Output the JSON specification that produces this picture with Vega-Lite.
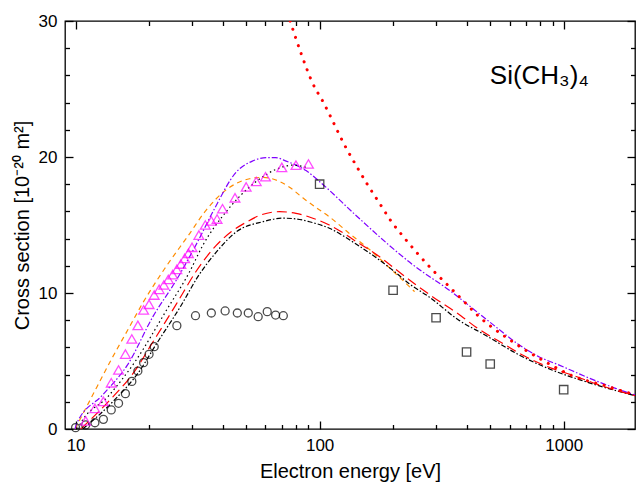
{
  "$schema": "https://vega.github.io/schema/vega-lite/v6.json",
  "width": 570,
  "height": 408,
  "autosize": {"type": "none"},
  "padding": {"left": 65, "top": 21, "right": 2, "bottom": 60},
  "background": "white",
  "config": {
    "view": {"stroke": "black", "strokeWidth": 1.3},
    "font": "Liberation Sans",
    "axis": {
      "domain": false,
      "grid": false,
      "tickColor": "black",
      "tickWidth": 1.3,
      "labelFont": "Liberation Sans",
      "labelFontSize": 17,
      "labelColor": "black",
      "titleFont": "Liberation Sans",
      "titleFontSize": 20,
      "titleFontWeight": "normal",
      "titleColor": "black"
    }
  },
  "datasets": {
    "curves": [
      {"s": "orange", "E": 9.95, "v": 0},
      {"s": "orange", "E": 11.6, "v": 2.3},
      {"s": "orange", "E": 14.0, "v": 5.1},
      {"s": "orange", "E": 16.5, "v": 7.4},
      {"s": "orange", "E": 18.9, "v": 9.3},
      {"s": "orange", "E": 23.2, "v": 11.8},
      {"s": "orange", "E": 28.9, "v": 14.2},
      {"s": "orange", "E": 34.3, "v": 16.1},
      {"s": "orange", "E": 41.5, "v": 17.6},
      {"s": "orange", "E": 51.6, "v": 18.4},
      {"s": "orange", "E": 58.5, "v": 18.5},
      {"s": "orange", "E": 68.5, "v": 18.2},
      {"s": "orange", "E": 75, "v": 17.8},
      {"s": "orange", "E": 85.3, "v": 17.0},
      {"s": "orange", "E": 100, "v": 16.1},
      {"s": "orange", "E": 109.6, "v": 15.6},
      {"s": "orange", "E": 132, "v": 14.4},
      {"s": "orange", "E": 160, "v": 13.2},
      {"s": "orange", "E": 200, "v": 11.6},
      {"s": "orange", "E": 245, "v": 10.1},

      {"s": "violet", "E": 9.95, "v": 0},
      {"s": "violet", "E": 10.1, "v": 0.4},
      {"s": "violet", "E": 12.9, "v": 2.5},
      {"s": "violet", "E": 16.3, "v": 4.7},
      {"s": "violet", "E": 20.8, "v": 8.3},
      {"s": "violet", "E": 25.9, "v": 10.96},
      {"s": "violet", "E": 31.7, "v": 13.8},
      {"s": "violet", "E": 36.6, "v": 16.0},
      {"s": "violet", "E": 45.6, "v": 18.9},
      {"s": "violet", "E": 53, "v": 19.7},
      {"s": "violet", "E": 60.4, "v": 19.95},
      {"s": "violet", "E": 66, "v": 19.95},
      {"s": "violet", "E": 72.9, "v": 19.7},
      {"s": "violet", "E": 80, "v": 19.4},
      {"s": "violet", "E": 88, "v": 19.0},
      {"s": "violet", "E": 99.8, "v": 18.2},
      {"s": "violet", "E": 141, "v": 15.7},
      {"s": "violet", "E": 193, "v": 13.5},
      {"s": "violet", "E": 240, "v": 12.1},
      {"s": "violet", "E": 340, "v": 10.2},
      {"s": "violet", "E": 495, "v": 7.9},
      {"s": "violet", "E": 656, "v": 6.2},
      {"s": "violet", "E": 795, "v": 5.3},
      {"s": "violet", "E": 959, "v": 4.7},
      {"s": "violet", "E": 1231, "v": 3.85},
      {"s": "violet", "E": 1632, "v": 2.99},
      {"s": "violet", "E": 1960, "v": 2.5},

      {"s": "black dotted", "E": 10.2, "v": 0},
      {"s": "black dotted", "E": 10.4, "v": 0.3},
      {"s": "black dotted", "E": 13.6, "v": 2.4},
      {"s": "black dotted", "E": 17.6, "v": 5.0},
      {"s": "black dotted", "E": 23.6, "v": 8.75},
      {"s": "black dotted", "E": 29.4, "v": 11.6},
      {"s": "black dotted", "E": 33.2, "v": 13.5},
      {"s": "black dotted", "E": 41.5, "v": 16.0},
      {"s": "black dotted", "E": 55, "v": 18.2},
      {"s": "black dotted", "E": 66.5, "v": 19.1},
      {"s": "black dotted", "E": 77.5, "v": 19.4},
      {"s": "black dotted", "E": 90, "v": 19.2},

      {"s": "black dash-dot", "E": 10.7, "v": 0},
      {"s": "black dash-dot", "E": 14.2, "v": 2.0},
      {"s": "black dash-dot", "E": 18.5, "v": 4.4},
      {"s": "black dash-dot", "E": 21, "v": 6.0},
      {"s": "black dash-dot", "E": 27.1, "v": 9.1},
      {"s": "black dash-dot", "E": 31.7, "v": 11.2},
      {"s": "black dash-dot", "E": 37.7, "v": 13.0},
      {"s": "black dash-dot", "E": 45.6, "v": 14.5},
      {"s": "black dash-dot", "E": 58.5, "v": 15.24},
      {"s": "black dash-dot", "E": 70.5, "v": 15.5},
      {"s": "black dash-dot", "E": 80, "v": 15.45},
      {"s": "black dash-dot", "E": 90.8, "v": 15.24},
      {"s": "black dash-dot", "E": 109.6, "v": 14.76},
      {"s": "black dash-dot", "E": 141, "v": 13.6},
      {"s": "black dash-dot", "E": 175, "v": 12.45},
      {"s": "black dash-dot", "E": 205, "v": 11.5},
      {"s": "black dash-dot", "E": 232, "v": 10.7},
      {"s": "black dash-dot", "E": 280, "v": 9.73},
      {"s": "black dash-dot", "E": 372, "v": 8.0},
      {"s": "black dash-dot", "E": 478, "v": 6.9},
      {"s": "black dash-dot", "E": 656, "v": 5.45},
      {"s": "black dash-dot", "E": 895, "v": 4.34},
      {"s": "black dash-dot", "E": 1231, "v": 3.48},
      {"s": "black dash-dot", "E": 1700, "v": 2.74},
      {"s": "black dash-dot", "E": 1960, "v": 2.45},

      {"s": "red dashed", "E": 10.5, "v": 0},
      {"s": "red dashed", "E": 13.6, "v": 2.0},
      {"s": "red dashed", "E": 17.7, "v": 4.4},
      {"s": "red dashed", "E": 20.1, "v": 6.0},
      {"s": "red dashed", "E": 25.9, "v": 9.2},
      {"s": "red dashed", "E": 31.2, "v": 11.6},
      {"s": "red dashed", "E": 37.7, "v": 13.5},
      {"s": "red dashed", "E": 43.4, "v": 14.5},
      {"s": "red dashed", "E": 50, "v": 15.2},
      {"s": "red dashed", "E": 56.7, "v": 15.7},
      {"s": "red dashed", "E": 68.5, "v": 15.98},
      {"s": "red dashed", "E": 80, "v": 15.86},
      {"s": "red dashed", "E": 93.8, "v": 15.5},
      {"s": "red dashed", "E": 109.6, "v": 15.0},
      {"s": "red dashed", "E": 145, "v": 13.65},
      {"s": "red dashed", "E": 175, "v": 12.7},
      {"s": "red dashed", "E": 215, "v": 11.45},
      {"s": "red dashed", "E": 248, "v": 10.6},
      {"s": "red dashed", "E": 290, "v": 9.73},
      {"s": "red dashed", "E": 380, "v": 8.31},
      {"s": "red dashed", "E": 436, "v": 7.5},
      {"s": "red dashed", "E": 577, "v": 6.18},
      {"s": "red dashed", "E": 685, "v": 5.4},
      {"s": "red dashed", "E": 895, "v": 4.46},
      {"s": "red dashed", "E": 1080, "v": 3.97},
      {"s": "red dashed", "E": 1470, "v": 3.11},
      {"s": "red dashed", "E": 1960, "v": 2.45}
    ],
    "reddotted": [
      {"E": 75.7, "v": 30},
      {"E": 84, "v": 27.6},
      {"E": 93.8, "v": 25.4},
      {"E": 103, "v": 24.1},
      {"E": 129, "v": 20.6},
      {"E": 143, "v": 19.2},
      {"E": 158, "v": 17.9},
      {"E": 176, "v": 16.6},
      {"E": 196, "v": 15.3},
      {"E": 222, "v": 14.07},
      {"E": 252, "v": 12.9},
      {"E": 290, "v": 11.7},
      {"E": 334, "v": 10.6},
      {"E": 385, "v": 9.49},
      {"E": 443, "v": 8.38},
      {"E": 617, "v": 6.42},
      {"E": 818, "v": 5.07},
      {"E": 1068, "v": 3.97},
      {"E": 1531, "v": 3.11},
      {"E": 1880, "v": 2.62},
      {"E": 1960, "v": 2.55}
    ],
    "circles": [
      {"E": 10, "v": 0.1}, {"E": 11, "v": 0.3}, {"E": 12, "v": 0.46}, {"E": 13, "v": 0.71},
      {"E": 14, "v": 1.4}, {"E": 15, "v": 1.89}, {"E": 16, "v": 2.6}, {"E": 17, "v": 3.5},
      {"E": 18, "v": 4.26}, {"E": 19, "v": 4.88}, {"E": 20, "v": 5.49}, {"E": 21, "v": 6.05},
      {"E": 26, "v": 7.6}, {"E": 31, "v": 8.33}, {"E": 36, "v": 8.53}, {"E": 41, "v": 8.68},
      {"E": 46, "v": 8.53}, {"E": 51, "v": 8.53}, {"E": 56, "v": 8.26}, {"E": 61, "v": 8.63},
      {"E": 66, "v": 8.38}, {"E": 71, "v": 8.33}
    ],
    "triangles": [
      {"E": 11, "v": 0.6}, {"E": 12, "v": 1.52}, {"E": 13, "v": 2.03}, {"E": 14, "v": 3.4},
      {"E": 15, "v": 4.34}, {"E": 16, "v": 5.51}, {"E": 17, "v": 6.62}, {"E": 18, "v": 7.62},
      {"E": 19, "v": 8.75}, {"E": 20, "v": 9.17}, {"E": 21, "v": 9.85}, {"E": 22, "v": 10.27},
      {"E": 23, "v": 10.59}, {"E": 24, "v": 11.0}, {"E": 25, "v": 11.35}, {"E": 26, "v": 11.74},
      {"E": 27, "v": 12.13}, {"E": 28, "v": 12.55}, {"E": 29, "v": 12.92}, {"E": 30, "v": 13.36},
      {"E": 32, "v": 14.26}, {"E": 34, "v": 15.0}, {"E": 36, "v": 15.3}, {"E": 38, "v": 15.44},
      {"E": 40, "v": 16.2}, {"E": 45, "v": 17.0}, {"E": 50, "v": 17.8}, {"E": 55, "v": 18.2},
      {"E": 60, "v": 18.55}, {"E": 70, "v": 19.24}, {"E": 80, "v": 19.4}, {"E": 90, "v": 19.49}
    ],
    "squares": [
      {"E": 100, "v": 18.0}, {"E": 200, "v": 10.2}, {"E": 300, "v": 8.18},
      {"E": 400, "v": 5.66}, {"E": 500, "v": 4.78}, {"E": 1000, "v": 2.89}
    ],
    "labels": [
      {"E": 498, "v": 25.4, "t": "Si(CH₃)₄"}
    ]
  },
  "layer": [
    {
      "data": {"name": "curves"},
      "mark": {"type": "line", "interpolate": "monotone", "clip": true},
      "encoding": {
        "x": {
          "field": "E", "type": "quantitative",
          "scale": {"type": "log", "domain": [9.05, 1960], "nice": false},
          "axis": {
            "orient": "bottom",
            "title": "Electron energy [eV]",
            "values": [10, 20, 30, 40, 50, 60, 70, 80, 90, 100, 200, 300, 400, 500, 600, 700, 800, 900, 1000],
            "labelExpr": "datum.value == 10 || datum.value == 100 || datum.value == 1000 ? format(datum.value, 'd') : ''",
            "tickSize": {"condition": {"test": "datum.value == 10 || datum.value == 100 || datum.value == 1000", "value": -8}, "value": -4.5},
            "labelPadding": 16,
            "labelFlush": false,
            "titlePadding": 8
          }
        },
        "y": {
          "field": "v", "type": "quantitative",
          "scale": {"domain": [0, 30], "nice": false},
          "axis": {
            "orient": "left",
            "title": "Cross section [10⁻²⁰ m²]",
            "values": [0, 2, 4, 6, 8, 10, 12, 14, 16, 18, 20, 22, 24, 26, 28, 30],
            "labelExpr": "datum.value % 10 == 0 ? format(datum.value, 'd') : ''",
            "tickSize": {"condition": {"test": "datum.value % 10 == 0", "value": -8}, "value": -4.5},
            "labelPadding": 16,
            "labelFlush": false,
            "titlePadding": 6
          }
        },
        "color": {
          "field": "s", "type": "nominal", "legend": null,
          "scale": {
            "domain": ["orange", "violet", "black dotted", "black dash-dot", "red dashed"],
            "range": ["#FF8C00", "#8000FF", "#000000", "#000000", "#FF0000"]
          }
        },
        "strokeDash": {
          "field": "s", "type": "nominal", "legend": null,
          "scale": {
            "domain": ["orange", "violet", "black dotted", "black dash-dot", "red dashed"],
            "range": [[5, 4], [6, 2, 1.5, 2], [1.5, 3], [5, 2, 1.5, 2], [10, 5]]
          }
        },
        "strokeWidth": {
          "field": "s", "type": "nominal", "legend": null,
          "scale": {
            "domain": ["orange", "violet", "black dotted", "black dash-dot", "red dashed"],
            "range": [1.2, 1.2, 1.3, 1.0, 2.7]
          }
        }
      }
    },
    {
      "data": {"name": "reddotted"},
      "mark": {"type": "line", "interpolate": "monotone", "clip": true, "color": "#FF0000", "strokeWidth": 3, "strokeCap": "round", "strokeDash": [0.1, 8.5]},
      "encoding": {
        "x": {"field": "E", "type": "quantitative", "axis": null},
        "y": {"field": "v", "type": "quantitative", "axis": null}
      }
    },
    {
      "data": {"name": "circles"},
      "mark": {"type": "point", "shape": "circle", "filled": false, "stroke": "black", "strokeWidth": 1.3, "size": 64},
      "encoding": {
        "x": {
          "field": "E", "type": "quantitative",
          "axis": {
            "orient": "top", "title": null, "labels": false,
            "values": [10, 20, 30, 40, 50, 60, 70, 80, 90, 100, 200, 300, 400, 500, 600, 700, 800, 900, 1000],
            "tickSize": {"condition": {"test": "datum.value == 10 || datum.value == 100 || datum.value == 1000", "value": -8}, "value": -4.5}
          }
        },
        "y": {
          "field": "v", "type": "quantitative",
          "axis": {
            "orient": "right", "title": null, "labels": false,
            "values": [0, 2, 4, 6, 8, 10, 12, 14, 16, 18, 20, 22, 24, 26, 28, 30],
            "tickSize": {"condition": {"test": "datum.value % 10 == 0", "value": -8}, "value": -4.5}
          }
        }
      }
    },
    {
      "data": {"name": "triangles"},
      "mark": {"type": "point", "shape": "triangle-up", "filled": false, "stroke": "#FF00FF", "strokeWidth": 1.3, "size": 95},
      "encoding": {
        "x": {"field": "E", "type": "quantitative", "axis": null},
        "y": {"field": "v", "type": "quantitative", "axis": null}
      }
    },
    {
      "data": {"name": "squares"},
      "mark": {"type": "point", "shape": "square", "filled": false, "stroke": "black", "strokeWidth": 1.3, "size": 70},
      "encoding": {
        "x": {"field": "E", "type": "quantitative", "axis": null},
        "y": {"field": "v", "type": "quantitative", "axis": null}
      }
    },
    {
      "data": {"name": "labels"},
      "mark": {"type": "text", "align": "left", "baseline": "alphabetic", "font": "Liberation Sans", "fontSize": 26, "color": "black"},
      "encoding": {
        "x": {"field": "E", "type": "quantitative", "axis": null},
        "y": {"field": "v", "type": "quantitative", "axis": null},
        "text": {"field": "t"}
      }
    }
  ],
  "resolve": {"axis": {"x": "independent", "y": "independent"}}
}
